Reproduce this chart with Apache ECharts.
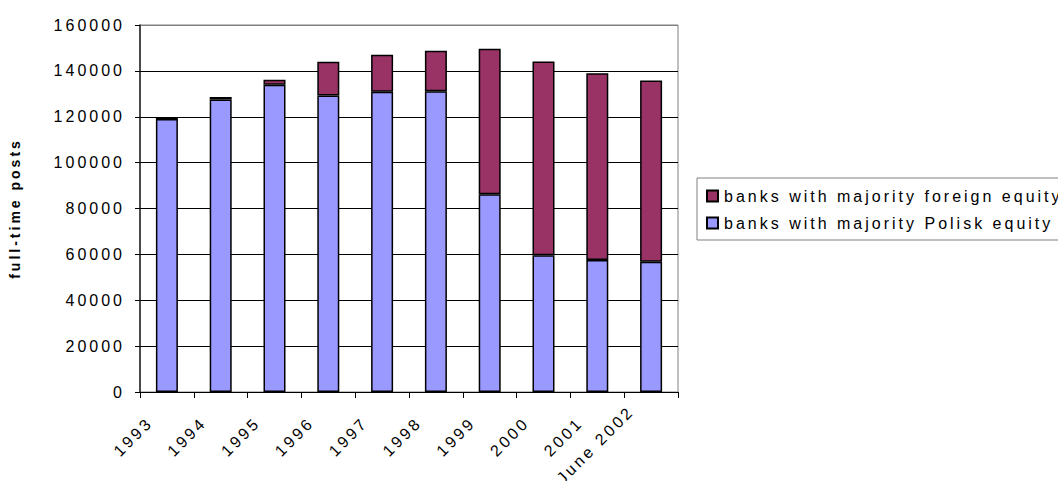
<!DOCTYPE html>
<html>
<head>
<meta charset="utf-8">
<script src="https://cdn.jsdelivr.net/npm/echarts@6/dist/echarts.min.js"></script>
<style>
  html, body { margin: 0; padding: 0; background: #fff; }
  #chart { width: 1058px; height: 481px; }
  #chart text { letter-spacing: 3px; }
</style>
</head>
<body>
<div id="chart"></div>
<script>
const categories = ['1993', '1994', '1995', '1996', '1997', '1998', '1999', '2000', '2001', 'June 2002'];
const polishEquity = [119000, 127500, 134000, 129300, 130900, 131100, 86200, 59600, 57500, 56800];
const foreignEquity = [900, 1100, 2100, 14700, 16100, 17700, 63400, 84500, 81500, 79000];
const yTicks = [0, 20000, 40000, 60000, 80000, 100000, 120000, 140000, 160000];
const seriesNames = ['banks with majority foreign equity', 'banks with majority Polisk equity'];
const yTitle = 'full-time posts';

const chart = echarts.init(document.getElementById('chart'), null, { renderer: 'svg' });
const font = "'Liberation Sans', Arial, sans-serif";
chart.setOption({
  animation: false,
  backgroundColor: '#fff',
  textStyle: { fontFamily: font, color: '#000' },
  grid: {
    left: 138, right: 380, top: 25, bottom: 89,
    show: true, borderColor: '#808080', borderWidth: 1, backgroundColor: '#fff'
  },
  legend: {
    orient: 'vertical',
    left: 697, top: 178,
    padding: [10, 130, 9, 9],
    itemWidth: 11, itemHeight: 11, itemGap: 11,
    borderColor: '#808080', borderWidth: 1,
    icon: 'rect',
    textStyle: { fontFamily: font, fontSize: 16, color: '#000', padding: [0, 0, 0, 1] },
    data: [seriesNames[0], seriesNames[1]]
  },
  xAxis: {
    type: 'category',
    data: categories,
    axisLine: { lineStyle: { color: '#000', width: 1 } },
    axisTick: { show: true, length: 6, lineStyle: { color: '#000' } },
    axisLabel: {
      interval: 0, rotate: 45, margin: 11, fontSize: 16, color: '#000',
      fontFamily: font,
      formatter: function (v) { return (v.length > 4 ? '{j|' : '{n|') + v + '}'; },
      rich: {
        n: { fontSize: 16, fontFamily: font, color: '#000', padding: [0, 24, 0, 0] },
        j: { fontSize: 16, fontFamily: font, color: '#000', padding: [0, 18, 20, 0] }
      }
    }
  },
  yAxis: {
    type: 'value',
    min: yTicks[0], max: yTicks[yTicks.length - 1], interval: yTicks[1] - yTicks[0],
    name: yTitle,
    nameLocation: 'middle',
    nameGap: 118,
    nameRotate: 90,
    nameTextStyle: { fontFamily: font, fontSize: 14, fontWeight: 'bold', color: '#000' },
    axisLine: { show: true, lineStyle: { color: '#222', width: 1.5 } },
    axisTick: { show: true, length: 5, lineStyle: { color: '#000' } },
    axisLabel: { margin: 15, fontSize: 16, color: '#000', fontFamily: font, formatter: function (v) { return String(v); } },
    splitLine: { show: true, lineStyle: { color: ['#000', '#000', '#000', '#000', '#000', '#000', '#000', '#000', '#808080'], width: 1 } }
  },
  series: [
    {
      name: seriesNames[1], type: 'bar', stack: 'total', barWidth: 22,
      data: polishEquity,
      itemStyle: { color: '#9999FF', borderColor: '#000', borderWidth: 1.5 }
    },
    {
      name: seriesNames[0], type: 'bar', stack: 'total', barWidth: 22,
      data: foreignEquity,
      itemStyle: { color: '#993366', borderColor: '#000', borderWidth: 1.5 }
    }
  ]
});
</script>
</body>
</html>
